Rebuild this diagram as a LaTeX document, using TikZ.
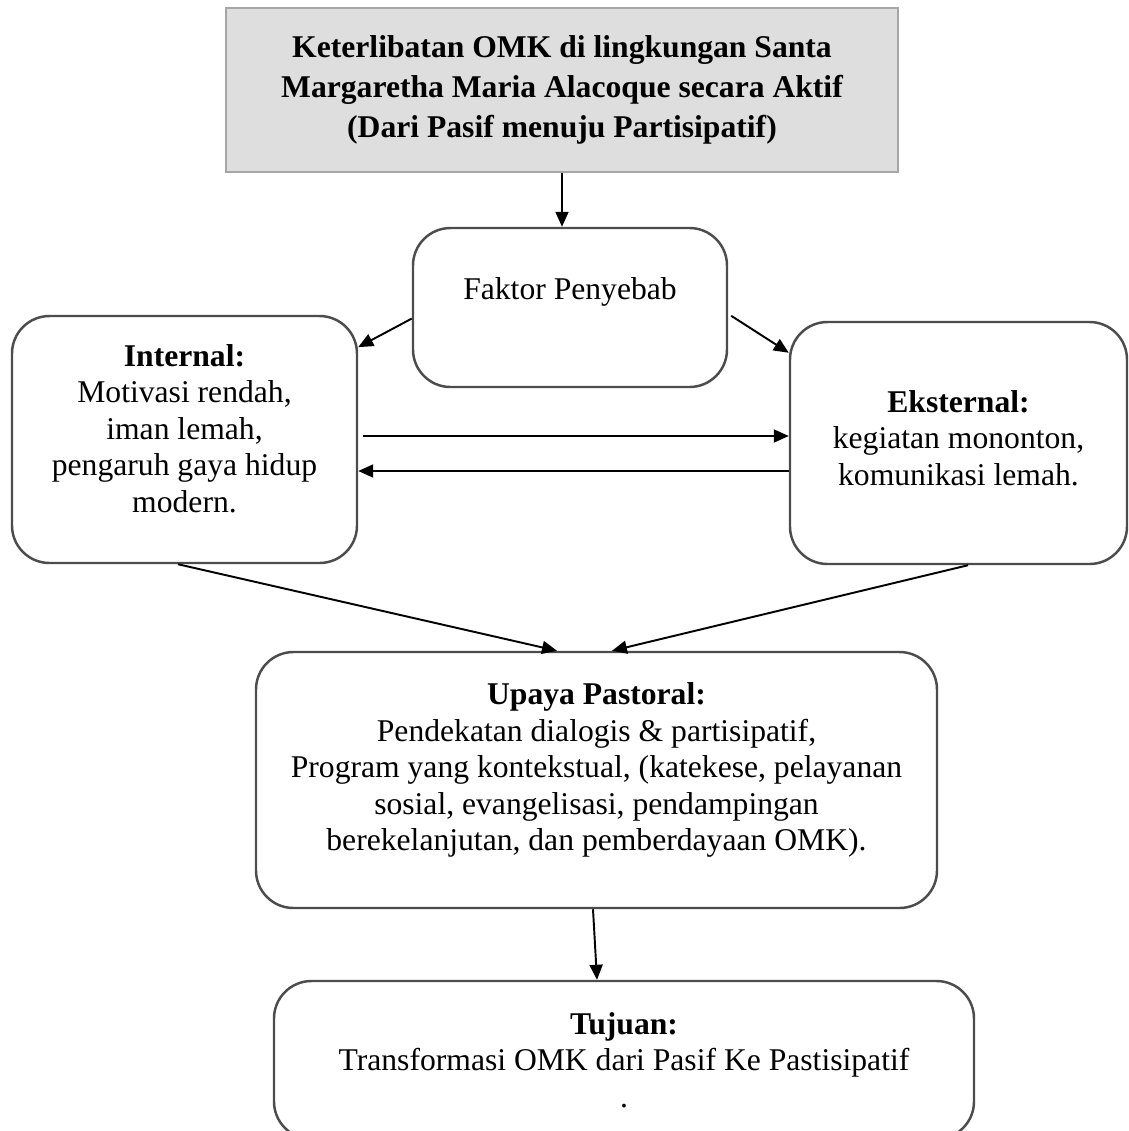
\documentclass[tikz,border=0pt]{standalone}
\usepackage{fontspec}
\setmainfont{Liberation Serif}
\usetikzlibrary{arrows.meta}

\begin{document}
\begin{tikzpicture}[
        rbox/.style={draw=black!70, line width=1.4pt, rounded corners=0.75cm, align=center, font=\fontsize{18}{20.8}\selectfont},
        txt/.style={align=center, font=\fontsize{18}{20.8}\selectfont},
        conn/.style={-{Triangle[length=0.3cm, width=0.26cm]}, line width=1.1pt}
    ]
        \useasboundingbox (0, 0) rectangle (22.58, -22.62);
        \node[draw=black!35, fill=black!13, line width=1.6pt, minimum width=13.44cm, minimum height=3.28cm, align=center, font=\bfseries\fontsize{18}{22.8}\selectfont] (top) at (11.24, -1.80) {Keterlibatan OMK di lingkungan Santa\\ Margaretha Maria Alacoque secara Aktif\\ (Dari Pasif menuju Partisipatif)};
        \node[rbox, minimum width=6.28cm, minimum height=3.18cm, label={[txt, yshift=0.32cm]center:Faktor Penyebab}] (faktor) at (11.40, -6.15) {};
        \node[rbox, minimum width=6.90cm, minimum height=4.94cm, label={[txt, yshift=0.22cm]center:{\textbf{Internal:}\\ Motivasi rendah,\\ iman lemah,\\ pengaruh gaya hidup\\ modern.}}] (inter) at (3.69, -8.79) {};
        \node[rbox, minimum width=6.74cm, minimum height=4.84cm, label={[txt, yshift=0.1cm]center:{\textbf{Eksternal:}\\ kegiatan mononton,\\ komunikasi lemah.}}] (ekst) at (19.17, -8.86) {};
        \node[rbox, minimum width=13.62cm, minimum height=5.12cm, label={[txt, yshift=0.2cm]center:{\textbf{Upaya Pastoral:}\\ Pendekatan dialogis \& partisipatif,\\ Program yang kontekstual, (katekese, pelayanan\\ sosial, evangelisasi, pendampingan\\ berekelanjutan, dan pemberdayaan OMK).}}] (upaya) at (11.93, -15.60) {};
        \node[rbox, minimum width=14.00cm, minimum height=3.16cm] (tujuan) at (12.48, -21.20) {\textbf{Tujuan:}\\ Transformasi OMK dari Pasif Ke Pastisipatif\\ .};
        % arrows
        \draw[conn] (top.south) -- (top.south |- faktor.north);
        \draw[conn] (faktor.184) -- (inter.28);
        \draw[conn] ([xshift=0.06cm]faktor.-3) -- (ekst.152);
        \draw[conn, shorten <=0.1cm] ([yshift=0.07cm]inter.east) -- ([yshift=0.07cm]inter.east -| ekst.west);
        \draw[conn] ([yshift=-0.63cm]inter.east -| ekst.west) -- ([yshift=-0.63cm]inter.east);
        \draw[conn] ([xshift=-0.13cm]inter.south) -- ([xshift=-0.79cm]upaya.north);
        \draw[conn] ([xshift=0.19cm]ekst.south) -- ([xshift=0.31cm]upaya.north);
        \draw[conn] ([xshift=-0.07cm]upaya.south) -- ([xshift=-0.54cm]tujuan.north);
\end{tikzpicture}
\end{document}
